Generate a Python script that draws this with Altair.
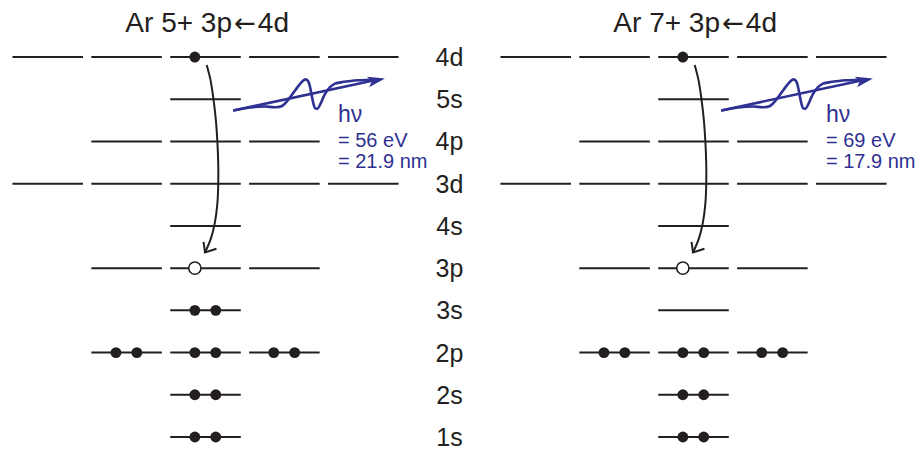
import altair as alt
import pandas as pd

# ---------------- data ----------------
level_names = ["1s", "2s", "2p", "3s", "3p", "4s", "3d", "4p", "5s", "4d"]
level_slots = [[0], [0], [-1, 0, 1], [0], [-1, 0, 1], [0],
               [-2, -1, 0, 1, 2], [-1, 0, 1], [0], [-2, -1, 0, 1, 2]]

title_ions = ["Ar 5+ 3p", "Ar 7+ 3p"]
title_arrow = "\u2190"
title_upper = "4d"
panel_offsets = [0.0, 6.185]
photon_energy = ["= 56 eV", "= 69 eV"]
photon_wavelength = ["= 21.9 nm", "= 17.9 nm"]

# electrons: (level, slot, kind, count)
electrons_left = [("4d", 0, "e", 1), ("3p", 0, "hole", 1), ("3s", 0, "e", 2),
                  ("2p", -1, "e", 2), ("2p", 0, "e", 2), ("2p", 1, "e", 2),
                  ("2s", 0, "e", 2), ("1s", 0, "e", 2)]
electrons_right = [("4d", 0, "e", 1), ("3p", 0, "hole", 1),
                   ("2p", -1, "e", 2), ("2p", 0, "e", 2), ("2p", 1, "e", 2),
                   ("2s", 0, "e", 2), ("1s", 0, "e", 2)]
panel_electrons = [electrons_left, electrons_right]

# decay arrow path (slot units, level units)
arc_x = [0.015, 0.063, 0.099, 0.131, 0.150, 0.161, 0.162, 0.150, 0.120, 0.070, -0.006]
arc_y = [8.81, 8.46, 8.03, 7.51, 7.01, 6.51, 6.02, 5.52, 5.09, 4.71, 4.37]
barb_x = [-0.025, -0.006, 0.139]
barb_y = [4.62, 4.37, 4.46]

# photon wave path
wave_x = [0.352, 0.564, 0.754, 0.881, 0.970, 1.050, 1.140, 1.220, 1.265, 1.300,
          1.325, 1.345, 1.365, 1.388, 1.420, 1.460, 1.510, 1.575, 1.640, 1.715,
          1.810, 1.935, 2.085, 2.186]
wave_y = [7.733, 7.804, 7.830, 7.810, 7.840, 7.990, 8.220, 8.410, 8.470, 8.430,
          8.290, 8.100, 7.920, 7.790, 7.780, 7.900, 8.110, 8.280, 8.370, 8.400,
          8.425, 8.450, 8.460, 8.468]
ray_x = [0.352, 2.186]
ray_y = [7.733, 8.468]
head_xy = [2.167, 8.451]

BLACK = "#231f20"
BLUE = "#2e3192"
FONT = "Liberation Sans"

xs = alt.Scale(domain=[-2.6046, 9.0558], nice=False, zero=False)
ys = alt.Scale(domain=[-0.308, 10.351], nice=False, zero=False)

# ---------------- tables ----------------
seg_rows, e_rows, h_rows, arc_rows, barb_rows = [], [], [], [], []
wave_rows, ray_rows, head_rows, blue_rows = [], [], [], []
tl_rows, ta_rows, tr_rows = [], [], []
for p, off in enumerate(panel_offsets):
    for i, slots in enumerate(level_slots):
        for s in slots:
            seg_rows.append(dict(x=s - 0.447 + off, x2=s + 0.447 + off, y=i))
    for lvl, slot, kind, n in panel_electrons[p]:
        yi = level_names.index(lvl)
        offs = [-0.135] if n == 1 else [-0.135, 0.13]
        for o in offs:
            row = dict(x=slot + o + off, y=yi)
            (h_rows if kind == "hole" else e_rows).append(row)
    for k, (ax, ay) in enumerate(zip(arc_x, arc_y)):
        arc_rows.append(dict(panel=p, k=k, x=ax + off, y=ay))
    for k, (bx, by) in enumerate(zip(barb_x, barb_y)):
        barb_rows.append(dict(panel=p, k=k, x=bx + off, y=by))
    for k, (wx, wy) in enumerate(zip(wave_x, wave_y)):
        wave_rows.append(dict(panel=p, k=k, x=wx + off, y=wy))
    ray_rows.append(dict(x=ray_x[0] + off, x2=ray_x[1] + off, y=ray_y[0], y2=ray_y[1]))
    head_rows.append(dict(x=head_xy[0] + off, y=head_xy[1]))
    tl_rows.append(dict(x=0.336 + off, y=9.60, t=title_ions[p]))
    ta_rows.append(dict(x=0.502 + off, y=9.60, t=title_arrow))
    tr_rows.append(dict(x=0.663 + off, y=9.60, t=title_upper))
    blue_rows.append(dict(x=1.679 + off, y=6.869, t=photon_energy[p]))
    blue_rows.append(dict(x=1.679 + off, y=6.360, t=photon_wavelength[p]))
hv_rows = [dict(x=1.679 + off, y=7.468, t="h\u03bd") for off in panel_offsets]
label_rows = [dict(x=3.092, y=i, t=n) for i, n in enumerate(level_names)]

X = lambda: alt.X("x:Q", scale=xs, axis=None)
Y = lambda: alt.Y("y:Q", scale=ys, axis=None)

segments = alt.Chart(pd.DataFrame(seg_rows)).mark_rule(
    color=BLACK, strokeWidth=2).encode(x=X(), x2="x2:Q", y=Y())

arc = alt.Chart(pd.DataFrame(arc_rows)).mark_line(
    color=BLACK, strokeWidth=2, interpolate="catmull-rom").encode(
    x=X(), y=Y(), detail="panel:N", order="k:Q")
barbs = alt.Chart(pd.DataFrame(barb_rows)).mark_line(
    color=BLACK, strokeWidth=2, strokeJoin="miter").encode(
    x=X(), y=Y(), detail="panel:N", order="k:Q")

dots = alt.Chart(pd.DataFrame(e_rows)).mark_point(
    shape="circle", filled=True, color=BLACK, size=118, opacity=1).encode(x=X(), y=Y())
holes = alt.Chart(pd.DataFrame(h_rows)).mark_point(
    shape="circle", filled=True, fill="white", stroke=BLACK, strokeWidth=1.6,
    size=150, opacity=1, fillOpacity=1).encode(x=X(), y=Y())

wave = alt.Chart(pd.DataFrame(wave_rows)).mark_line(
    color=BLUE, strokeWidth=2.6, interpolate="catmull-rom").encode(
    x=X(), y=Y(), detail="panel:N", order="k:Q")
ray = alt.Chart(pd.DataFrame(ray_rows)).mark_rule(
    color=BLUE, strokeWidth=2.6).encode(x=X(), x2="x2:Q", y=Y(), y2="y2:Q")
head = alt.Chart(pd.DataFrame(head_rows)).mark_point(
    shape="M1,0L-1,-0.62L-0.55,0L-1,0.62Z", filled=True, color=BLUE,
    size=300, angle=348, opacity=1).encode(x=X(), y=Y())

title_l = alt.Chart(pd.DataFrame(tl_rows)).mark_text(
    font=FONT, fontSize=28, color=BLACK, align="right", baseline="alphabetic").encode(
    x=X(), y=Y(), text="t:N")
title_a = alt.Chart(pd.DataFrame(ta_rows)).mark_text(
    font="DejaVu Sans", fontSize=26, color=BLACK, align="center", baseline="alphabetic").encode(
    x=X(), y=Y(), text="t:N")
title_r = alt.Chart(pd.DataFrame(tr_rows)).mark_text(
    font=FONT, fontSize=28, color=BLACK, align="left", baseline="alphabetic").encode(
    x=X(), y=Y(), text="t:N")
labels = alt.Chart(pd.DataFrame(label_rows)).mark_text(
    font=FONT, fontSize=25, color=BLACK, align="center", baseline="middle", dy=1).encode(
    x=X(), y=Y(), text="t:N")
blue_txt = alt.Chart(pd.DataFrame(blue_rows)).mark_text(
    font=FONT, fontSize=20, color=BLUE, align="left", baseline="alphabetic").encode(
    x=X(), y=Y(), text="t:N")
hv_txt = alt.Chart(pd.DataFrame(hv_rows)).mark_text(
    font=FONT, fontSize=23, color=BLUE, align="left", baseline="alphabetic").encode(
    x=X(), y=Y(), text="t:N")

chart = alt.layer(
    segments, arc, barbs, dots, holes, wave, ray, head,
    title_l, title_a, title_r, labels, blue_txt, hv_txt
).properties(
    width=920, height=450, padding=0, autosize="none", background="white"
).configure_view(strokeWidth=0)

chart.save("out.html", embed_options={"renderer": "svg", "actions": False})
